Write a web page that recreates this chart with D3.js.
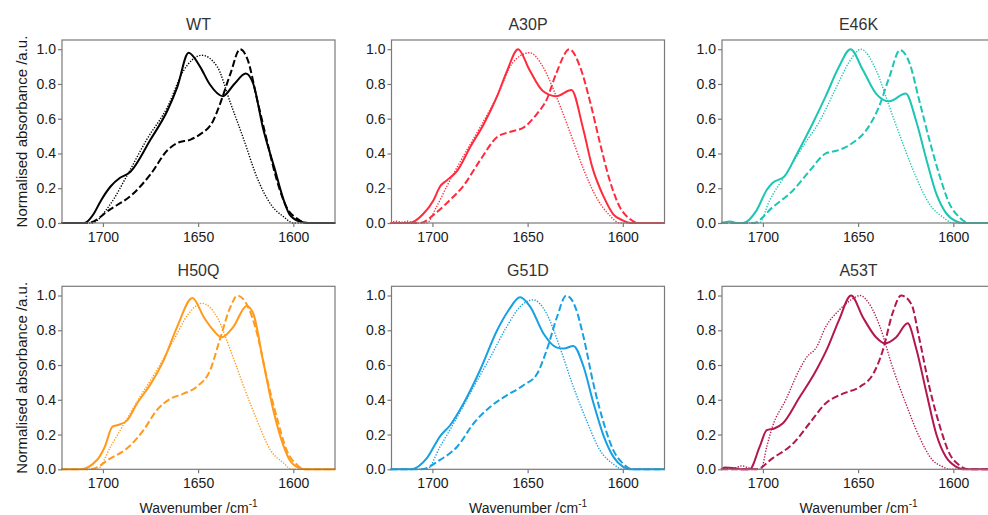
<!DOCTYPE html>
<html>
<head>
<meta charset="utf-8">
<script src="https://cdn.jsdelivr.net/npm/d3@7"></script>
<style>
  body { margin: 0; background: #fff; }
  svg { font-family: "Liberation Sans", Arial, sans-serif; }
</style>
</head>
<body>
<svg id="chart" width="988" height="515"></svg>
<script>
// FTIR amide I spectra, one panel per variant
// solid / dashed / dotted = three conditions

const variants = ["WT", "A30P", "E46K", "H50Q", "G51D", "A53T"];
const colors = ["#000000", "#ff2b3d", "#1cc6b4", "#ff9a1c", "#17a0e2", "#b3174f"];
const xTicks = [1700, 1650, 1600];
const yTicks = [0, 0.2, 0.4, 0.6, 0.8, 1.0];

// [wavenumber, normalised absorbance]
const wtSolid = [[1722,0],[1710,0],[1708,0.01],[1705,0.05],[1701,0.13],[1696,0.21],[1691,0.26],[1686,0.29],[1675,0.48],[1666,0.65],[1661,0.78],[1655,0.98],[1649,0.90],[1644,0.80],[1637,0.73],[1631,0.80],[1625,0.86],[1621,0.80],[1616,0.55],[1610,0.32],[1605,0.13],[1602,0.05],[1597,0.01],[1592,0],[1578,0]];
const wtDashed = [[1722,0],[1708,0],[1696,0.08],[1684,0.17],[1675,0.28],[1666,0.42],[1661,0.46],[1654,0.48],[1649,0.51],[1642,0.59],[1639,0.67],[1633,0.86],[1628,1.0],[1624,0.94],[1619,0.71],[1614,0.48],[1609,0.26],[1603.5,0.09],[1598,0.025],[1593,0],[1578,0]];
const wtDotted = [[1722,0],[1706,0],[1696,0.11],[1687,0.28],[1677,0.48],[1666,0.67],[1658,0.87],[1648,0.965],[1640,0.90],[1633,0.69],[1626,0.48],[1619,0.26],[1612,0.11],[1605,0.035],[1600,0],[1578,0]];

const a30pSolid = [[1722,0],[1712,0],[1705,0.05],[1699.5,0.13],[1696,0.21],[1692.5,0.245],[1687,0.30],[1680,0.44],[1673,0.57],[1666,0.73],[1661,0.87],[1655,1.0],[1649,0.88],[1642,0.76],[1635,0.73],[1627,0.765],[1621,0.55],[1616,0.32],[1610,0.15],[1605,0.05],[1600,0.015],[1596,0],[1578,0]];
const a30pDashed = [[1722,0],[1706.5,0],[1698,0.06],[1691,0.13],[1684,0.21],[1675,0.36],[1666,0.495],[1659,0.525],[1652,0.55],[1645,0.63],[1640,0.71],[1635,0.86],[1628,1.0],[1622.5,0.90],[1617,0.69],[1612,0.46],[1607,0.25],[1601.5,0.09],[1596.5,0.025],[1592,0],[1578,0]];
const a30pDotted = [[1722,0],[1719,0.01],[1716,0.005],[1713,0.01],[1709,0],[1703,0],[1698,0.09],[1692.5,0.21],[1684,0.38],[1675,0.55],[1666,0.73],[1658,0.92],[1649,0.98],[1642,0.90],[1635,0.73],[1628,0.53],[1621,0.32],[1614,0.15],[1607,0.045],[1601.5,0],[1578,0]];

const e46kSolid = [[1722,0],[1720,0.005],[1717,0.008],[1714,0],[1710.5,0],[1703.5,0.07],[1698,0.19],[1695,0.23],[1688.6,0.27],[1682.5,0.39],[1674,0.57],[1667,0.73],[1660,0.90],[1654,1.0],[1647.5,0.88],[1640.6,0.745],[1633.6,0.70],[1625,0.745],[1619.6,0.59],[1614,0.36],[1609,0.17],[1604,0.06],[1598.6,0.01],[1595,0],[1578,0]];
const e46kDashed = [[1722,0],[1705,0],[1695,0.09],[1684,0.19],[1675.5,0.30],[1667,0.40],[1660,0.42],[1653,0.46],[1646,0.53],[1639,0.67],[1633.6,0.84],[1628,0.995],[1623,0.92],[1618,0.71],[1612.6,0.48],[1607,0.265],[1602,0.11],[1597,0.035],[1592,0],[1578,0]];
const e46kDotted = [[1722,0],[1702,0],[1696.5,0.13],[1688,0.28],[1679,0.44],[1670,0.59],[1661.5,0.78],[1654.5,0.93],[1648.5,1.0],[1640.6,0.88],[1633.6,0.67],[1626.6,0.46],[1619.6,0.265],[1612.6,0.11],[1605.6,0.035],[1600,0],[1578,0]];

const h50qSolid = [[1722,0],[1712,0],[1703,0.055],[1699,0.13],[1695,0.245],[1692,0.255],[1687.4,0.28],[1682,0.38],[1675,0.49],[1668,0.63],[1661,0.82],[1653,0.985],[1647,0.875],[1642,0.80],[1637.6,0.76],[1631.5,0.82],[1624.5,0.94],[1621,0.895],[1616,0.63],[1610.5,0.34],[1605,0.13],[1602,0.055],[1596.5,0.006],[1593,0],[1578,0]];
const h50qDashed = [[1722,0],[1706.6,0],[1696,0.063],[1687.4,0.12],[1678.7,0.225],[1671.7,0.34],[1664.7,0.405],[1657.7,0.435],[1650.7,0.475],[1643.7,0.57],[1638.5,0.75],[1633,0.935],[1629.4,1.0],[1624.5,0.95],[1619,0.78],[1614,0.53],[1608.7,0.30],[1603.5,0.11],[1598,0.025],[1594,0],[1578,0]];
const h50qDotted = [[1722,0],[1703,0],[1696,0.13],[1689,0.26],[1680.4,0.42],[1671.7,0.57],[1663,0.74],[1655,0.895],[1648,0.955],[1640,0.875],[1633,0.685],[1626,0.475],[1619,0.28],[1612,0.11],[1605,0.035],[1601,0],[1578,0]];

const g51dSolid = [[1722,0],[1711.5,0],[1703,0.063],[1696,0.19],[1690.6,0.255],[1683.6,0.38],[1675,0.57],[1666,0.80],[1660,0.915],[1654,0.99],[1648.6,0.935],[1641.6,0.78],[1634.6,0.70],[1631,0.695],[1626,0.71],[1620.6,0.59],[1615.4,0.38],[1610,0.19],[1605,0.073],[1600,0.015],[1596,0],[1578,0]];
const g51dDashed = [[1722,0],[1706,0],[1696,0.054],[1687,0.13],[1678.3,0.265],[1669.6,0.36],[1661,0.425],[1652,0.485],[1645,0.55],[1640,0.685],[1634.6,0.875],[1629.7,1.0],[1625,0.935],[1620.6,0.76],[1615.4,0.49],[1610,0.265],[1605,0.11],[1600,0.034],[1595,0],[1578,0]];
const g51dDotted = [[1722,0],[1703,0],[1696,0.13],[1687,0.30],[1678.3,0.475],[1669.6,0.645],[1661,0.82],[1654,0.935],[1647,0.975],[1640,0.895],[1633,0.70],[1626,0.475],[1619,0.28],[1612,0.11],[1605,0.03],[1600,0],[1578,0]];

const a53tSolid = [[1722,0],[1720,0.01],[1716,0.008],[1712,0],[1707,0],[1701.7,0.13],[1698,0.225],[1694,0.235],[1689.5,0.265],[1681,0.41],[1672,0.57],[1666,0.70],[1660,0.86],[1653.7,1.0],[1647.5,0.875],[1640.6,0.76],[1636,0.725],[1630,0.76],[1624,0.84],[1619.6,0.70],[1614,0.435],[1609,0.205],[1604,0.073],[1598.6,0.015],[1595,0],[1578,0]];
const a53tDashed = [[1722,0],[1703.5,0],[1695,0.063],[1684,0.15],[1675.5,0.265],[1667,0.38],[1658,0.435],[1649,0.475],[1642,0.55],[1637,0.685],[1632,0.895],[1627.4,1.0],[1622,0.95],[1618,0.76],[1612.6,0.475],[1607,0.245],[1602,0.09],[1597,0.025],[1592,0],[1578,0]];
const a53tDotted = [[1722,0],[1714,0.01],[1711,0.02],[1708,0.01],[1704,0],[1701,0],[1698,0.13],[1695,0.245],[1688,0.40],[1681,0.57],[1677,0.645],[1672,0.70],[1667,0.82],[1660,0.915],[1653,0.98],[1649,1.0],[1644,0.95],[1638.5,0.82],[1632,0.59],[1625,0.38],[1618,0.19],[1611,0.054],[1605.6,0.015],[1602,0],[1578,0]];

const solids = [wtSolid, a30pSolid, e46kSolid, h50qSolid, g51dSolid, a53tSolid];
const dasheds = [wtDashed, a30pDashed, e46kDashed, h50qDashed, g51dDashed, a53tDashed];
const dotteds = [wtDotted, a30pDotted, e46kDotted, h50qDotted, g51dDotted, a53tDotted];

class SpectrumPanel {
    constructor(svg, left, top, width = 273, height = 183) {
        this.svg = svg;
        this.left = left;
        this.top = top;
        this.width = width;
        this.height = height;
    }

    initialize() {
        this.g = this.svg.append("g")
            .attr("transform", `translate(${this.left}, ${this.top})`);

        this.xScale = d3.scaleLinear().domain([1721.5, 1578.1]).range([0, this.width]);
        this.yScale = d3.scaleLinear().domain([0, 1.053]).range([this.height, 0]);

        this.lines = this.g.append("g");
        this.g.append("rect")
            .attr("width", this.width)
            .attr("height", this.height)
            .attr("fill", "none")
            .attr("stroke", "#7a7a7a")
            .attr("stroke-width", 1.2);

        this.xAxis = this.g.append("g").attr("transform", `translate(0, ${this.height})`);
        this.yAxis = this.g.append("g");
    }

    update(title, color, solid, dashed, dotted, yLabel, xLabel) {
        const line = d3.line()
            .x(d => this.xScale(d[0]))
            .y(d => this.yScale(d[1]))
            .curve(d3.curveMonotoneX);

        const styles = [
            { data: dotted, width: 1.4, dash: "1.3,1.5" },
            { data: dashed, width: 2, dash: "7,3" },
            { data: solid, width: 2, dash: null }
        ];

        styles.forEach(s => {
            this.lines.append("path")
                .datum(s.data)
                .attr("fill", "none")
                .attr("stroke", color)
                .attr("stroke-width", s.width)
                .attr("stroke-dasharray", s.dash)
                .attr("d", line);
        });

        this.xAxis.call(d3.axisBottom(this.xScale).tickValues(xTicks).tickFormat(d3.format("d")).tickSize(4).tickPadding(5));
        this.yAxis.call(d3.axisLeft(this.yScale).tickValues(yTicks).tickFormat(d3.format(".1f")).tickSize(4).tickPadding(2));

        [this.xAxis, this.yAxis].forEach(ax => {
            ax.select(".domain").remove();
            ax.selectAll(".tick line").attr("stroke", "#7a7a7a").attr("stroke-width", 1.2);
            ax.selectAll(".tick text")
                .attr("fill", "#1a1a1a")
                .style("font-size", "14px")
                .style("font-family", "'Liberation Sans', Arial, sans-serif");
        });

        this.g.append("text")
            .attr("x", this.width / 2)
            .attr("y", -10)
            .attr("text-anchor", "middle")
            .attr("fill", "#333")
            .style("font-size", "16px")
            .text(title);

        if (yLabel) {
            this.g.append("text")
                .attr("transform", `translate(-35.5, ${this.height / 2}) rotate(-90)`)
                .attr("text-anchor", "middle")
                .attr("fill", "#1a1a1a")
                .style("font-size", "15px")
                .text("Normalised absorbance /a.u.");
        }

        if (xLabel) {
            const t = this.g.append("text")
                .attr("x", this.width / 2)
                .attr("y", this.height + 44)
                .attr("text-anchor", "middle")
                .attr("fill", "#1a1a1a")
                .style("font-size", "14px");
            t.append("tspan").text("Wavenumber /cm");
            t.append("tspan").attr("dy", -6).style("font-size", "10px").text("-1");
        }
    }
}

const svg = d3.select("#chart");
const colLeft = [62, 391.5, 722];
const rowTop = [40, 286.3];

variants.forEach((name, i) => {
    const row = Math.floor(i / 3), col = i % 3;
    const panel = new SpectrumPanel(svg, colLeft[col], rowTop[row]);
    panel.initialize();
    panel.update(name, colors[i], solids[i], dasheds[i], dotteds[i], col === 0, row === 1);
});
</script>
</body>
</html>
